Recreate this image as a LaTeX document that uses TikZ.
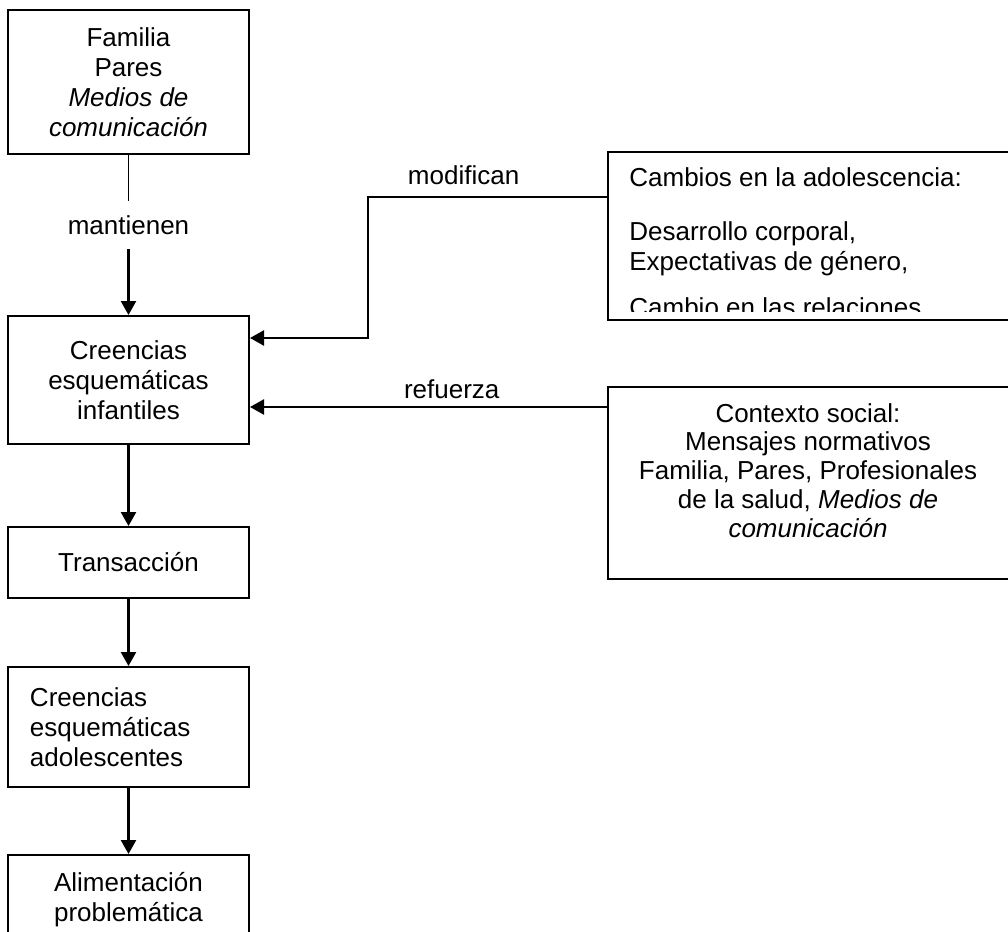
\documentclass[tikz,border=0pt]{standalone}
\usepackage{fontspec}
\setmainfont{Liberation Sans}
\usetikzlibrary{arrows.meta}

\begin{document}
\begin{tikzpicture}[x=0.5pt, y=-0.5pt, % medidas en pixeles
    every node/.style={font=\fontsize{13pt}{15pt}\selectfont},
    caja/.style={draw, line width=1pt, minimum width=120.5pt,
                 align=center, inner sep=0pt},
    panel/.style={draw, line width=1pt, inner sep=0pt},
    flecha/.style={line width=1.2pt, -{Triangle[length=7pt, width=7.5pt]}},
    linea/.style={line width=0.9pt},
    rotulo/.style={inner sep=0pt}]
  \useasboundingbox (0,0) rectangle (1008,932);

  % columna izquierda
  \node[caja, minimum height=72pt] (familia) at (128.5,82)
    {Familia\\Pares\\\textit{Medios de}\\\textit{comunicación}};
  \node[rotulo, minimum height=23.5pt] (mantienen) at (128.5,225) {mantienen};
  \node[caja, minimum height=64pt] (infantiles) at (128.5,380)
    {Creencias\\esquemáticas\\infantiles};
  \node[caja, minimum height=35.5pt] (transaccion) at (128.5,562.5) {Transacción};
  \node[caja, minimum height=60pt, align=left, text width=98.5pt,
        inner xsep=11pt] (adolescentes) at (128.5,727)
    {Creencias\\esquemáticas\\adolescentes};
  \node[caja, minimum height=45pt] (alimentacion) at (128.5,900)
    {Alimentación\\problemática};

  % cuadros de la derecha
  \node[panel, minimum width=202pt, minimum height=84pt] (cambios) at (810,236) {};
  \begin{scope}
    \clip (600,150) rectangle (1012,311);
    \node[rotulo, anchor=north west, align=left] (cambiostxt) at (629,167)
      {Cambios en la adolescencia:\\[12pt]Desarrollo corporal,\\
       Expectativas de género,\\[8pt]Cambio en las relaciones};
  \end{scope}
  \node[panel, minimum width=202pt, minimum height=96pt] (contexto) at (810,483) {};
  \node[rotulo, align=center, font=\fontsize{13pt}{14.4pt}\selectfont]
    (contextotxt) at (808,470.5)
    {Contexto social:\\Mensajes normativos\\Familia, Pares, Profesionales\\
     de la salud, \textit{Medios de}\\\textit{comunicación}};

  % conectores
  \draw[linea] (familia.south) -- (mantienen.north);
  \draw[flecha] (mantienen.south) -- (infantiles.north);
  \draw[flecha] (infantiles.south) -- (transaccion.north);
  \draw[flecha] (transaccion.south) -- (adolescentes.north);
  \draw[flecha] (adolescentes.south) -- (alimentacion.north);
  \draw[flecha] ([yshift=-23pt]cambios.north west)
    -- node[above, pos=0.6, yshift=2pt] (modifican) {modifican} ++(-239,0)
    |- ([yshift=-11.5pt]infantiles.north east);
  \draw[flecha] ([yshift=-10.5pt]contexto.north west)
    -- node[above, pos=0.435] (refuerza) {refuerza}
    ([yshift=-46pt]infantiles.north east);
\end{tikzpicture}
\end{document}
